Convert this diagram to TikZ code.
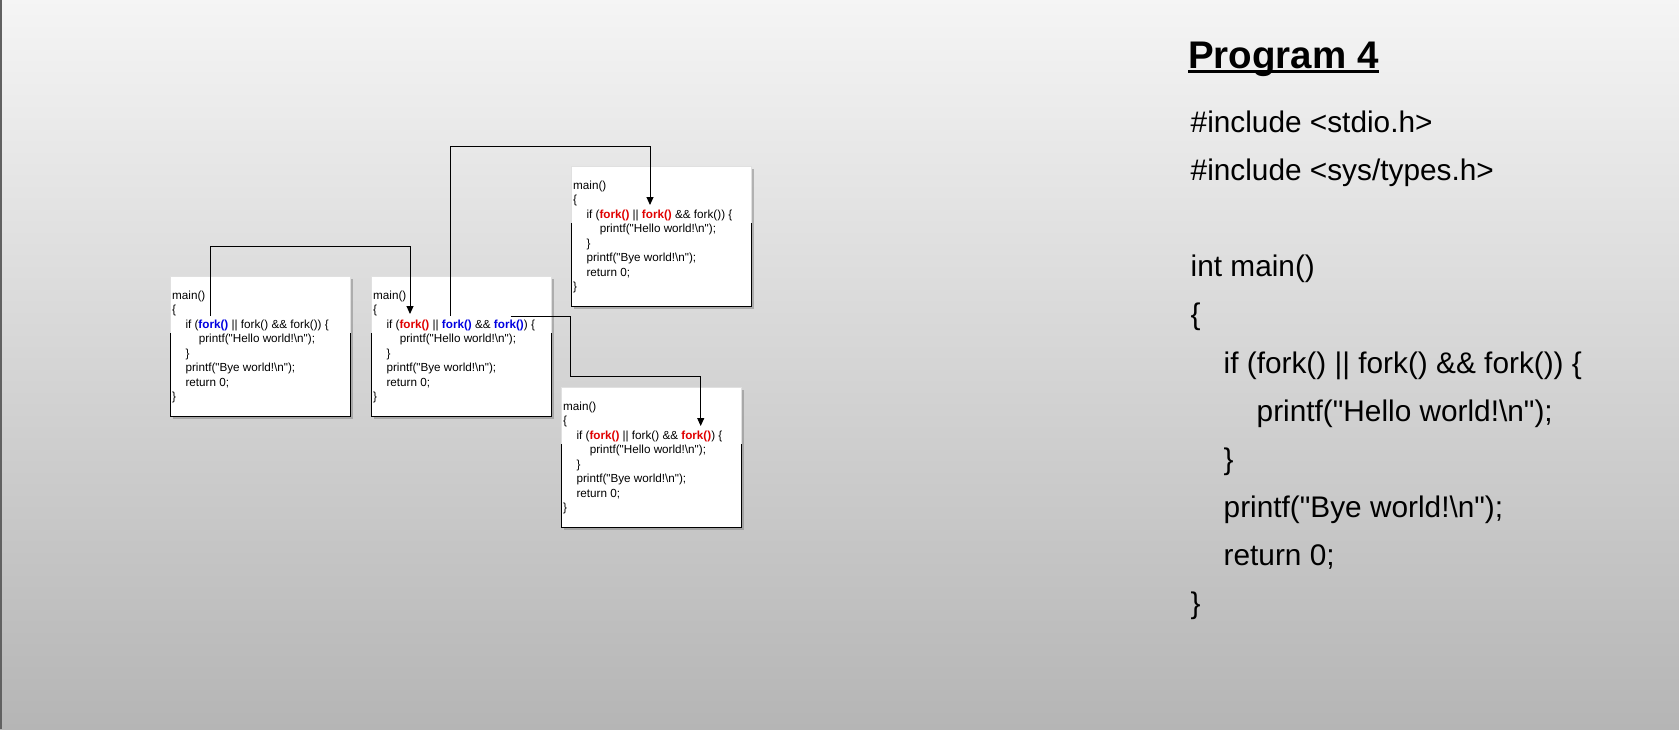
\documentclass[tikz,border=0pt]{standalone}
\usepackage{fontspec}
\setmainfont{Liberation Sans}
\usetikzlibrary{arrows.meta,shadows}

\definecolor{forkred}{RGB}{225,0,0}
\definecolor{forkblue}{RGB}{0,0,225}
\newcommand{\fk}[1]{\textcolor{#1}{\textbf{fork()}}}
\newcommand{\qq}{\textquotedbl}

\tikzset{
  codebox/.style={fill=white,minimum width=180pt,minimum height=140pt,inner sep=0pt,anchor=north west,
    drop shadow={shadow xshift=3pt,shadow yshift=-3pt,fill=black!50,opacity=0.5}},
  codeline/.style={anchor=base west,inner sep=0pt,font=\fontsize{11.7}{14}\selectfont},
  progline/.style={anchor=base west,inner sep=0pt,font=\fontsize{29.8}{36}\selectfont},
  conn/.style={line width=1pt,-{Triangle[length=8pt,width=7pt]}}
}

% one copy of the program: name, top left x, top left y, the if line
\newcommand{\forkbox}[4]{%
  \node[codebox] (#1) at (#2,#3) {};
  \draw[black!12,line width=1pt] ([yshift=-57pt]#1.north west) |- (#1.north east) -- ([yshift=-57pt]#1.north east);
  \draw[line width=1pt] ([yshift=-57pt]#1.north west) |- (#1.south east) -- ([yshift=-57pt]#1.north east);
  \foreach \txt/\ind [count=\k from 0] in {main()/0, \{/0, {#4}/1, {printf(\qq Hello world!\textbackslash n\qq);}/2, \}/1, {printf(\qq Bye world!\textbackslash n\qq);}/1, {return 0;}/1, \}/0}
    \node[codeline] (#1l\k) at ([xshift={2pt+13.3pt*\ind},yshift={-23.5pt-14.43pt*\k}]#1.north west) {\txt};
}

\begin{document}
\begin{tikzpicture}[x=1pt,y=-1pt]
\useasboundingbox (0,0) rectangle (1679,729);
\shade[top color=black!4,bottom color=black!29] (0,0) rectangle (1679,729);
\draw[black!62,line width=1.5pt] (0.75,0) -- (0.75,729);

% the four processes
\forkbox{b1}{170}{276}{if (\fk{forkblue} || fork() \&\& fork()) \{}
\forkbox{b2}{371}{276}{if (\fk{forkred} || \fk{forkblue} \&\& \fk{forkblue}) \{}
\forkbox{b3}{571}{166}{if (\fk{forkred} || \fk{forkred} \&\& fork()) \{}
\forkbox{b4}{561}{387}{if (\fk{forkred} || fork() \&\& \fk{forkred}) \{}

\coordinate (s1) at ([shift={(40.7,40)}]b1.north west);
\coordinate (t1) at ([shift={(39,38)}]b2.north west);
\coordinate (s2) at ([shift={(79.7,40)}]b2.north west);
\coordinate (t2) at ([shift={(79,39)}]b3.north west);
\coordinate (s3) at ([shift={(139.7,40)}]b2.north west);
\coordinate (t3) at ([shift={(139.7,39)}]b4.north west);

\draw[conn] (s1) -- ++(0,-70) -| (t1);
\draw[conn] (s2) -- ++(0,-169.3) -| (t2);
\draw[conn] (s3) -- ++(60,0) -- ++(0,60) -| (t3);

% program text
\node[anchor=base west,inner sep=0pt,font=\fontsize{38.5}{46}\selectfont\bfseries] (title) at (1188,68.3) {Program 4};
\draw[line width=2.7pt] ([yshift=-3pt]title.base west) -- ([yshift=-3pt]title.base east);

\foreach \i/\ind/\txt in {0/0/{\#include <stdio.h>}, 1/0/{\#include <sys/types.h>}, 3/0/{int main()}, 4/0/\{,
  5/1/{if (fork() || fork() \&\& fork()) \{}, 6/2/{printf(\qq Hello world!\textbackslash n\qq);}, 7/1/\},
  8/1/{printf(\qq Bye world!\textbackslash n\qq);}, 9/1/{return 0;}, 10/0/\}}
  \node[progline] (p\i) at ({1190.5+33*\ind},{132.3+48.15*\i}) {\txt};
\end{tikzpicture}
\end{document}
